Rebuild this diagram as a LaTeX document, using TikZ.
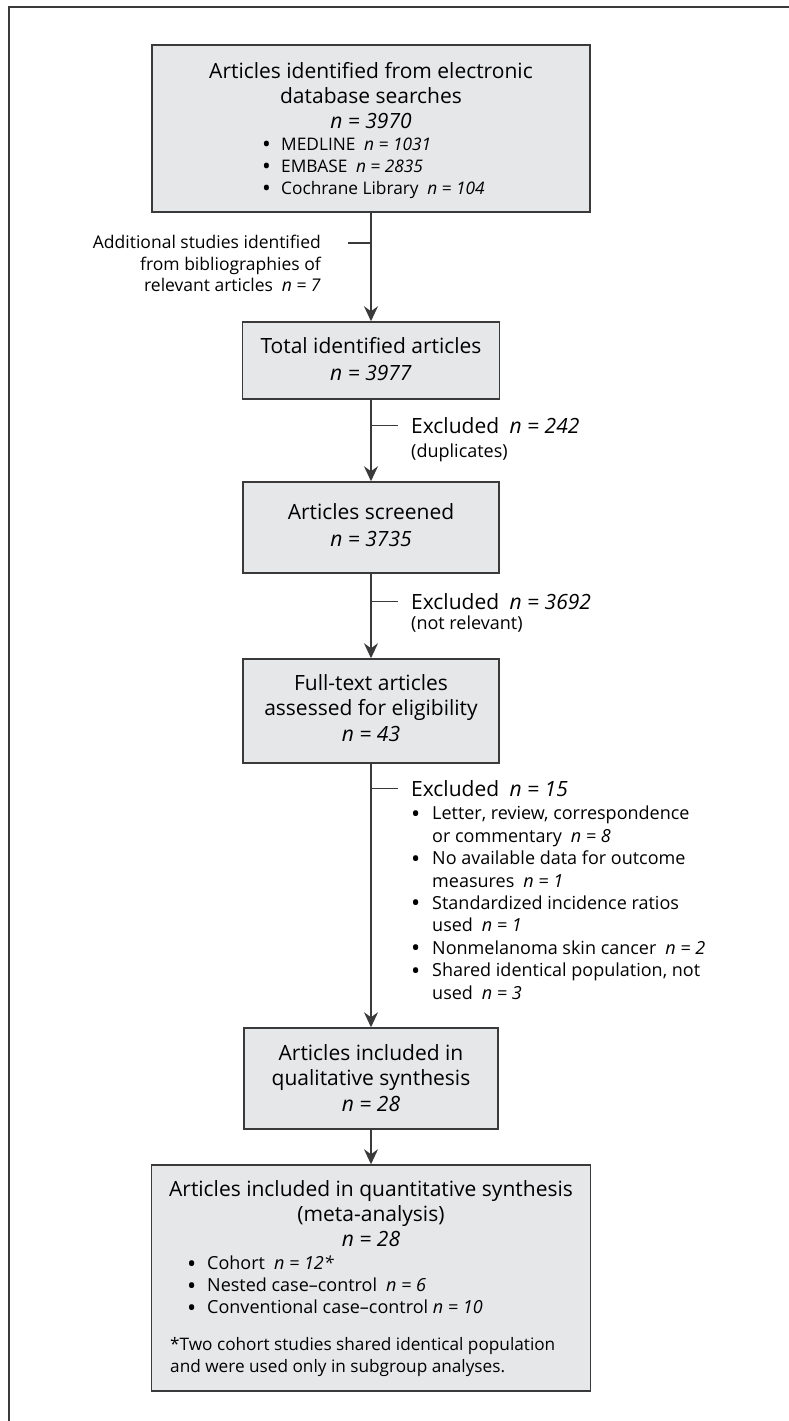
\documentclass[tikz,border=0pt]{standalone}
\usepackage{fontspec}
\usepackage{graphicx}
\setmainfont{Open Sans}
\usetikzlibrary{arrows.meta}

\definecolor{boxfill}{HTML}{E6E7E8}
\definecolor{boxline}{HTML}{3A3A3A}

\tikzset{
  flowbox/.style={draw=boxline, line width=1.5pt, fill=boxfill, inner sep=0pt},
  flowline/.style={draw=boxline, line width=1.4pt},
  flowarrow/.style={flowline, -{Stealth[length=15pt,width=14pt,inset=5pt]}},
  headtext/.style={inner sep=0pt, anchor=north, align=center, font=\fontsize{21}{25}\selectfont},
  subtext/.style={inner sep=0pt, anchor=north west, align=left, font=\fontsize{18}{22.4}\selectfont},
  exctext/.style={inner sep=0pt, anchor=north west, font=\fontsize{21}{25}\selectfont},
}
\newcommand{\bul}[1]{\makebox[#1][l]{\raisebox{-0.13em}{\scalebox{1.35}{\textbullet}}}}

\begin{document}
\begin{tikzpicture}[x=1pt, y=-1pt]
    \useasboundingbox (0,0) rectangle (789,1421);
    \draw[boxline, line width=2pt] (789,7) -- (8.5,7) -- (8.5,1421);
    % boxes
    \node[flowbox, minimum width=438pt, minimum height=167pt] (srch) at (371,128.5) {};
    \node[flowbox, minimum width=257pt, minimum height=77pt] (total) at (371,360.5) {};
    \node[flowbox, minimum width=256pt, minimum height=91pt] (screen) at (371,527.5) {};
    \node[flowbox, minimum width=256pt, minimum height=104pt] (full) at (371,711) {};
    \node[flowbox, minimum width=254pt, minimum height=101pt] (qual) at (371,1078.5) {};
    \node[flowbox, minimum width=439pt, minimum height=226pt] (quant) at (371,1278) {};
    % box texts
    \node[headtext] (srchtxt) at (371,62) {Articles identified from electronic\\database searches\\\textit{n = 3970}};
    \node[subtext, font=\fontsize{17.3}{22}\selectfont] (srchlist) at (262,138)
        {\bul{19pt}MEDLINE\enspace\textit{n = 1031}\\\bul{19pt}EMBASE\enspace\textit{n = 2835}\\\bul{19pt}Cochrane Library\enspace\textit{n = 104}};
    \node[headtext, font=\fontsize{21}{27}\selectfont] (totaltxt) at (371,337) {Total identified articles\\\textit{n = 3977}};
    \node[headtext, font=\fontsize{21}{27}\selectfont] (screentxt) at (371,503) {Articles screened\\\textit{n = 3735}};
    \node[headtext, font=\fontsize{21}{25.5}\selectfont] (fulltxt) at (371,674) {Full-text articles\\assessed for eligibility\\\textit{n = 43}};
    \node[headtext, font=\fontsize{21}{25.5}\selectfont] (qualtxt) at (371,1044) {Articles included in\\qualitative synthesis\\\textit{n = 28}};
    \node[headtext] (quanttxt) at (371,1180) {Articles included in quantitative synthesis\\(meta-analysis)\\\textit{n = 28}};
    \node[subtext, font=\fontsize{18}{22}\selectfont] (quantlist) at (187,1256)
        {\bul{20pt}Cohort\enspace\textit{n = 12*}\\\bul{20pt}Nested case--control\enspace\textit{n = 6}\\\bul{20pt}Conventional case--control \textit{n = 10}};
    \node[subtext, font=\fontsize{17.2}{22}\selectfont] (quantnote) at (170,1337)
        {*Two cohort studies shared identical population\\and were used only in subgroup analyses.};
    % side texts
    \node[inner sep=0pt, anchor=north east, align=right, font=\fontsize{17.5}{21.5}\selectfont] (addtxt) at (321,235)
        {Additional studies identified\\from bibliographies of\\relevant articles\enspace\textit{n = 7}};
    \node[exctext] (excla) at (411,417) {Excluded\enspace\textit{n = 242}};
    \node[subtext] (exclanote) at (411,444) {(duplicates)};
    \node[exctext] (exclb) at (411,593) {Excluded\enspace\textit{n = 3692}};
    \node[subtext] (exclbnote) at (411,616) {(not relevant)};
    \node[exctext] (exclc) at (411,780) {Excluded\enspace\textit{n = 15}};
    \node[subtext] (exclclist) at (411,806)
        {\bul{21pt}Letter, review, correspondence\\\hspace*{21pt}or commentary\enspace\textit{n = 8}\\
         \bul{21pt}No available data for outcome\\\hspace*{21pt}measures\enspace\textit{n = 1}\\
         \bul{21pt}Standardized incidence ratios\\\hspace*{21pt}used\enspace\textit{n = 1}\\
         \bul{21pt}Nonmelanoma skin cancer\enspace\textit{n = 2}\\
         \bul{21pt}Shared identical population, not\\\hspace*{21pt}used\enspace\textit{n = 3}};
    % connectors
    \coordinate (addtick) at (348,243);
    \draw[flowarrow] (srch.south) -- (total.north);
    \draw[flowline] (srch.south |- addtick) -- (addtick);
    \draw[flowarrow] (total.south) -- (screen.north);
    \draw[flowline] (total.south |- excla.west) -- ([xshift=-13pt]excla.west);
    \draw[flowarrow] (screen.south) -- (full.north);
    \draw[flowline] (screen.south |- exclb.west) -- ([xshift=-13pt]exclb.west);
    \draw[flowarrow] (full.south) -- (qual.north);
    \draw[flowline] (full.south |- exclc.west) -- ([xshift=-13pt]exclc.west);
    \draw[flowarrow] (qual.south) -- (quant.north);
\end{tikzpicture}
\end{document}
